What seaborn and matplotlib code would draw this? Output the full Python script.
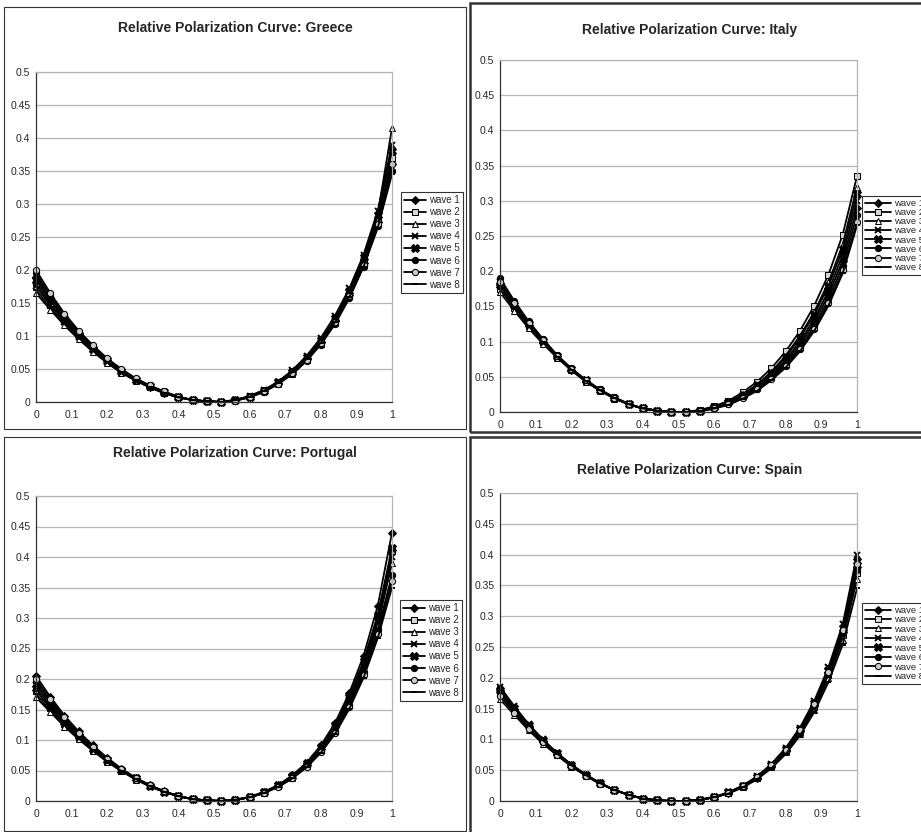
import matplotlib
matplotlib.use('Agg')
import matplotlib.pyplot as plt
import seaborn as sns
from matplotlib.patches import Rectangle

# x positions of the points (share of population)
x_vals = [0.00, 0.04, 0.08, 0.12, 0.16, 0.20, 0.24, 0.28, 0.32, 0.36, 0.40, 0.44, 0.48,
          0.52, 0.56, 0.60, 0.64, 0.68, 0.72, 0.76, 0.80, 0.84, 0.88, 0.92, 0.96, 1.00]

wave_labels = ['wave 1', 'wave 2', 'wave 3', 'wave 4', 'wave 5', 'wave 6', 'wave 7', 'wave 8']

greece = [
    [0.190, 0.157, 0.128, 0.103, 0.082, 0.063, 0.047, 0.034, 0.023, 0.014, 0.007, 0.003, 0.001, 0.000, 0.003, 0.008, 0.017, 0.029, 0.045, 0.066, 0.091, 0.123, 0.162, 0.210, 0.272, 0.360],
    [0.180, 0.150, 0.123, 0.100, 0.080, 0.062, 0.046, 0.034, 0.023, 0.014, 0.007, 0.003, 0.001, 0.000, 0.003, 0.009, 0.018, 0.030, 0.046, 0.067, 0.093, 0.126, 0.166, 0.214, 0.276, 0.370],
    [0.165, 0.140, 0.116, 0.095, 0.076, 0.059, 0.044, 0.032, 0.022, 0.013, 0.007, 0.003, 0.001, 0.000, 0.003, 0.008, 0.016, 0.028, 0.043, 0.063, 0.088, 0.120, 0.160, 0.212, 0.285, 0.415],
    [0.175, 0.147, 0.121, 0.099, 0.079, 0.061, 0.046, 0.033, 0.023, 0.014, 0.007, 0.003, 0.001, 0.000, 0.003, 0.009, 0.018, 0.031, 0.048, 0.070, 0.097, 0.131, 0.172, 0.223, 0.290, 0.390],
    [0.185, 0.154, 0.126, 0.102, 0.081, 0.063, 0.047, 0.034, 0.024, 0.015, 0.008, 0.003, 0.001, 0.000, 0.003, 0.008, 0.017, 0.030, 0.046, 0.068, 0.094, 0.127, 0.168, 0.219, 0.284, 0.380],
    [0.195, 0.161, 0.131, 0.106, 0.084, 0.065, 0.049, 0.035, 0.024, 0.015, 0.008, 0.003, 0.001, 0.000, 0.002, 0.007, 0.015, 0.027, 0.042, 0.062, 0.087, 0.118, 0.157, 0.205, 0.266, 0.350],
    [0.200, 0.165, 0.134, 0.108, 0.086, 0.066, 0.050, 0.036, 0.025, 0.016, 0.008, 0.003, 0.001, 0.000, 0.002, 0.007, 0.016, 0.028, 0.044, 0.064, 0.089, 0.121, 0.160, 0.208, 0.270, 0.360],
    [0.170, 0.143, 0.118, 0.097, 0.078, 0.060, 0.045, 0.033, 0.022, 0.014, 0.007, 0.003, 0.001, 0.000, 0.003, 0.008, 0.017, 0.029, 0.045, 0.065, 0.090, 0.121, 0.159, 0.205, 0.264, 0.345],
]

italy = [
    [0.180, 0.151, 0.124, 0.100, 0.079, 0.060, 0.044, 0.031, 0.020, 0.011, 0.005, 0.002, 0.000, 0.000, 0.002, 0.006, 0.013, 0.022, 0.035, 0.051, 0.071, 0.096, 0.127, 0.166, 0.215, 0.290],
    [0.175, 0.148, 0.122, 0.099, 0.078, 0.060, 0.044, 0.031, 0.020, 0.011, 0.005, 0.002, 0.000, 0.000, 0.003, 0.008, 0.016, 0.028, 0.043, 0.062, 0.086, 0.115, 0.151, 0.195, 0.252, 0.335],
    [0.170, 0.144, 0.119, 0.097, 0.077, 0.059, 0.043, 0.030, 0.019, 0.011, 0.005, 0.002, 0.000, 0.000, 0.002, 0.007, 0.014, 0.025, 0.039, 0.057, 0.080, 0.108, 0.142, 0.184, 0.238, 0.320],
    [0.185, 0.155, 0.127, 0.102, 0.080, 0.061, 0.045, 0.031, 0.020, 0.011, 0.005, 0.002, 0.000, 0.000, 0.002, 0.006, 0.013, 0.023, 0.036, 0.053, 0.074, 0.100, 0.132, 0.172, 0.223, 0.300],
    [0.180, 0.152, 0.125, 0.101, 0.080, 0.061, 0.045, 0.031, 0.020, 0.011, 0.005, 0.002, 0.000, 0.000, 0.002, 0.007, 0.014, 0.024, 0.038, 0.056, 0.078, 0.105, 0.138, 0.179, 0.231, 0.310],
    [0.190, 0.158, 0.129, 0.104, 0.081, 0.062, 0.046, 0.032, 0.021, 0.012, 0.005, 0.002, 0.000, 0.000, 0.002, 0.006, 0.012, 0.021, 0.033, 0.049, 0.068, 0.092, 0.122, 0.160, 0.208, 0.280],
    [0.185, 0.155, 0.127, 0.102, 0.080, 0.061, 0.045, 0.031, 0.020, 0.011, 0.005, 0.002, 0.000, 0.000, 0.001, 0.005, 0.011, 0.020, 0.032, 0.047, 0.066, 0.089, 0.118, 0.155, 0.201, 0.270],
    [0.175, 0.148, 0.122, 0.099, 0.078, 0.060, 0.044, 0.031, 0.020, 0.011, 0.005, 0.002, 0.000, 0.000, 0.001, 0.005, 0.010, 0.019, 0.030, 0.045, 0.063, 0.086, 0.115, 0.151, 0.197, 0.265],
]

portugal = [
    [0.205, 0.171, 0.140, 0.114, 0.091, 0.071, 0.053, 0.038, 0.026, 0.016, 0.008, 0.003, 0.001, 0.000, 0.002, 0.006, 0.014, 0.026, 0.042, 0.063, 0.091, 0.128, 0.177, 0.238, 0.320, 0.440],
    [0.180, 0.153, 0.127, 0.104, 0.084, 0.066, 0.050, 0.036, 0.024, 0.015, 0.008, 0.003, 0.001, 0.000, 0.002, 0.006, 0.014, 0.025, 0.040, 0.061, 0.088, 0.123, 0.169, 0.227, 0.302, 0.410],
    [0.170, 0.146, 0.122, 0.101, 0.082, 0.064, 0.049, 0.035, 0.024, 0.015, 0.008, 0.003, 0.001, 0.000, 0.002, 0.006, 0.013, 0.024, 0.038, 0.058, 0.084, 0.117, 0.161, 0.216, 0.288, 0.390],
    [0.190, 0.160, 0.132, 0.108, 0.087, 0.068, 0.051, 0.037, 0.025, 0.015, 0.008, 0.003, 0.001, 0.000, 0.002, 0.006, 0.014, 0.025, 0.039, 0.059, 0.086, 0.120, 0.165, 0.221, 0.294, 0.400],
    [0.185, 0.156, 0.129, 0.106, 0.086, 0.067, 0.051, 0.037, 0.025, 0.015, 0.008, 0.003, 0.001, 0.000, 0.002, 0.007, 0.015, 0.026, 0.041, 0.062, 0.089, 0.124, 0.171, 0.229, 0.305, 0.415],
    [0.195, 0.163, 0.134, 0.109, 0.088, 0.068, 0.051, 0.037, 0.025, 0.015, 0.008, 0.003, 0.001, 0.000, 0.002, 0.006, 0.013, 0.024, 0.038, 0.057, 0.082, 0.115, 0.158, 0.211, 0.280, 0.370],
    [0.200, 0.167, 0.137, 0.111, 0.089, 0.069, 0.052, 0.038, 0.026, 0.016, 0.008, 0.003, 0.001, 0.000, 0.002, 0.006, 0.013, 0.023, 0.037, 0.056, 0.080, 0.112, 0.154, 0.206, 0.273, 0.360],
    [0.175, 0.149, 0.124, 0.102, 0.083, 0.065, 0.049, 0.036, 0.024, 0.015, 0.008, 0.003, 0.001, 0.000, 0.002, 0.006, 0.013, 0.023, 0.037, 0.055, 0.079, 0.110, 0.151, 0.202, 0.267, 0.350],
]

spain = [
    [0.180, 0.150, 0.122, 0.098, 0.077, 0.058, 0.042, 0.029, 0.018, 0.010, 0.004, 0.001, 0.000, 0.000, 0.002, 0.006, 0.013, 0.024, 0.038, 0.057, 0.082, 0.114, 0.155, 0.208, 0.275, 0.380],
    [0.175, 0.147, 0.120, 0.097, 0.076, 0.058, 0.042, 0.029, 0.018, 0.010, 0.004, 0.001, 0.000, 0.000, 0.002, 0.006, 0.013, 0.024, 0.038, 0.057, 0.081, 0.112, 0.152, 0.204, 0.269, 0.370],
    [0.165, 0.140, 0.115, 0.093, 0.074, 0.056, 0.041, 0.028, 0.018, 0.010, 0.004, 0.001, 0.000, 0.000, 0.002, 0.006, 0.013, 0.023, 0.037, 0.055, 0.079, 0.109, 0.148, 0.199, 0.262, 0.360],
    [0.185, 0.154, 0.125, 0.100, 0.078, 0.059, 0.043, 0.029, 0.018, 0.010, 0.004, 0.001, 0.000, 0.000, 0.002, 0.007, 0.014, 0.025, 0.040, 0.060, 0.086, 0.119, 0.162, 0.217, 0.287, 0.400],
    [0.180, 0.151, 0.123, 0.099, 0.078, 0.059, 0.043, 0.029, 0.018, 0.010, 0.004, 0.001, 0.000, 0.000, 0.002, 0.006, 0.014, 0.025, 0.039, 0.059, 0.084, 0.117, 0.159, 0.213, 0.281, 0.390],
    [0.175, 0.146, 0.119, 0.096, 0.076, 0.057, 0.042, 0.029, 0.018, 0.010, 0.004, 0.001, 0.000, 0.000, 0.002, 0.006, 0.013, 0.024, 0.038, 0.057, 0.082, 0.114, 0.154, 0.206, 0.272, 0.375],
    [0.170, 0.143, 0.117, 0.095, 0.075, 0.057, 0.041, 0.028, 0.018, 0.010, 0.004, 0.001, 0.000, 0.000, 0.002, 0.006, 0.013, 0.024, 0.039, 0.058, 0.083, 0.116, 0.157, 0.210, 0.278, 0.385],
    [0.185, 0.153, 0.124, 0.099, 0.077, 0.058, 0.042, 0.029, 0.018, 0.010, 0.004, 0.001, 0.000, 0.000, 0.002, 0.006, 0.012, 0.022, 0.035, 0.053, 0.076, 0.106, 0.144, 0.193, 0.254, 0.345],
]

x_ticks = [0, 0.1, 0.2, 0.3, 0.4, 0.5, 0.6, 0.7, 0.8, 0.9, 1]
x_tick_labels = ['0', '0.1', '0.2', '0.3', '0.4', '0.5', '0.6', '0.7', '0.8', '0.9', '1']
y_ticks = [0, 0.05, 0.1, 0.15, 0.2, 0.25, 0.3, 0.35, 0.4, 0.45, 0.5]
y_tick_labels = ['0', '0.05', '0.1', '0.15', '0.2', '0.25', '0.3', '0.35', '0.4', '0.45', '0.5']

sns.set_style('white')
plt.rcParams['font.family'] = ['Liberation Sans', 'DejaVu Sans']

W, H = 921, 832
fig = plt.figure(figsize=(W / 100, H / 100), dpi=100)


def fbox(l, t, r, b):
    # pixel box (from top-left) -> figure fraction
    return [l / W, 1 - b / H, (r - l) / W, (b - t) / H]


# marker styles similar to the Excel b/w defaults
styles = [
    dict(marker='D', mfc='black', ms=4),
    dict(marker='s', mfc='#d8d8d8', ms=4.5),
    dict(marker='^', mfc='white', ms=5),
    dict(marker='x', ms=5, mew=1.4),
    dict(marker='X', mfc='black', ms=5.5),
    dict(marker='o', mfc='black', ms=4.5),
    dict(marker='o', mfc='#cccccc', ms=4.5),
    dict(marker='_', ms=5, mew=1.4),
]

panels = [
    # name, data, frame, axes box, title pos, legend top-left, legend font, row gap, handle, frame width
    ('Greece', greece, (4, 7, 466, 429), (36, 72, 392, 402), (235, 28), (401, 192), 7, 0.22, 2.3, 0.8),
    ('Italy', italy, (470, 3, 930, 432), (500, 60, 857, 412), (690, 30), (862, 196), 6.8, 0.02, 2.8, 1.8),
    ('Portugal', portugal, (4, 437, 466, 831), (36, 496, 392, 801), (235, 453), (400, 600), 7, 0.22, 2.3, 0.8),
    ('Spain', spain, (470, 437, 930, 840), (500, 493, 857, 801), (690, 470), (862, 603), 6.8, 0.05, 2.8, 1.8),
]

for name, data, frame, axbox, tpos, legpos, legfs, legsp, hlen, framelw in panels:
    fl, ft, fr, fb = frame
    fig.add_artist(Rectangle((fl / W, 1 - fb / H), (fr - fl) / W, (fb - ft) / H,
                             transform=fig.transFigure, fill=False,
                             edgecolor='#333333', lw=framelw))
    ax = fig.add_axes(fbox(*axbox))
    handles = []
    for i, wave in enumerate(data):
        sns.lineplot(x=x_vals, y=wave, ax=ax, color='black', lw=1.3,
                     mec='black', clip_on=False, **styles[i])
        handles.append(ax.lines[-1])
    ax.set_xlim(0, 1)
    ax.set_ylim(0, 0.5)
    ax.set_yticks(y_ticks)
    ax.set_yticklabels(y_tick_labels)
    ax.set_xticks(x_ticks)
    ax.set_xticklabels(x_tick_labels)
    ax.set_xticks([0.05, 0.15, 0.25, 0.35, 0.45, 0.55, 0.65, 0.75, 0.85, 0.95], minor=True)
    ax.tick_params(axis='y', which='major', direction='out', length=3, width=0.8,
                   labelsize=7.5, pad=1, color='#333333')
    ax.tick_params(axis='x', which='both', direction='in', length=3, width=0.8,
                   labelsize=7.5, pad=6, color='#333333')
    ax.yaxis.grid(True, color='#b4b4b4', lw=0.9)
    ax.set_axisbelow(True)
    for side in ['top', 'right']:
        ax.spines[side].set_color('#b4b4b4')
        ax.spines[side].set_linewidth(0.9)
    for side in ['left', 'bottom']:
        ax.spines[side].set_color('#333333')
        ax.spines[side].set_linewidth(0.9)
    fig.text(tpos[0] / W, 1 - tpos[1] / H, 'Relative Polarization Curve: ' + name,
             ha='center', va='center', fontsize=10, fontweight='bold')
    # Italy and Spain legends run past the right edge, as in the original
    leg = ax.legend(handles, wave_labels, loc='upper left',
                    bbox_to_anchor=(legpos[0] / W, 1 - legpos[1] / H),
                    bbox_transform=fig.transFigure, frameon=True, fancybox=False,
                    fontsize=legfs, handlelength=hlen, handletextpad=0.25,
                    borderpad=0.3, labelspacing=legsp, borderaxespad=0)
    leg.get_frame().set_edgecolor('black')
    leg.get_frame().set_linewidth(0.8)

fig.savefig('out.png', dpi=100, facecolor='white')
